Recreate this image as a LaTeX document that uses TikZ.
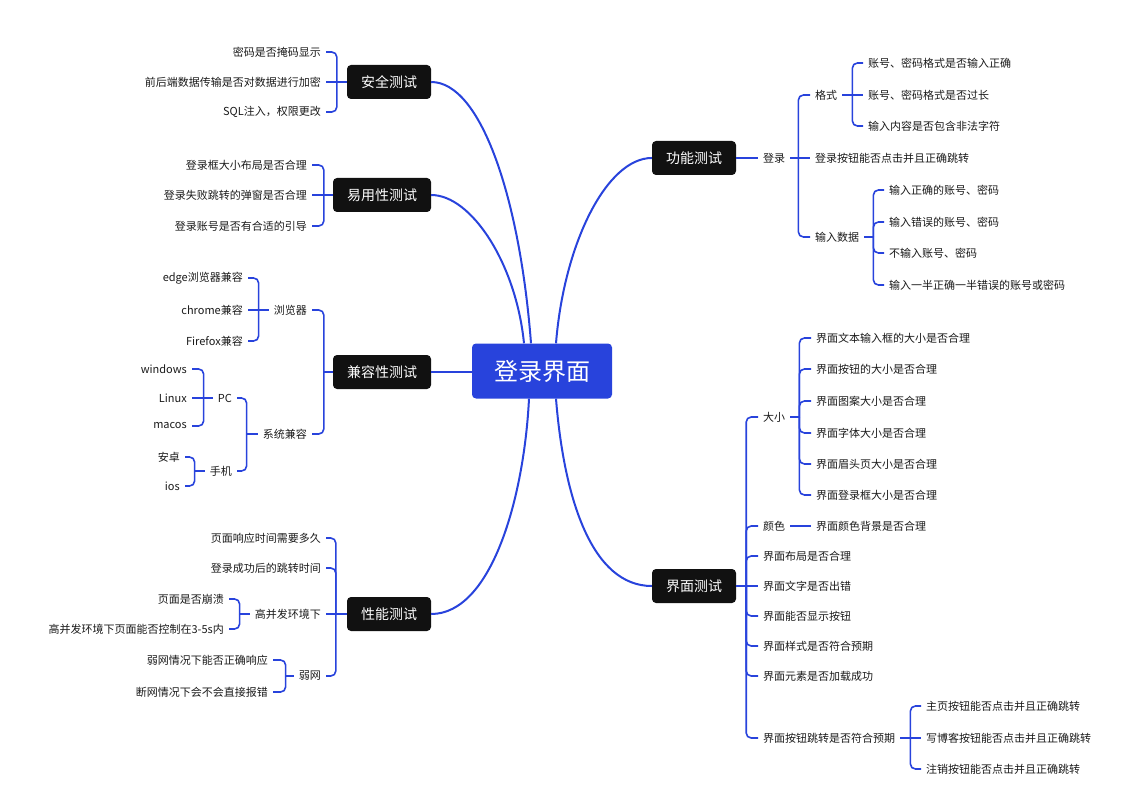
\documentclass[tikz,border=0pt]{standalone}
\usepackage{fontspec}
\usepackage{tikz}
\newfontfamily\cjk{Noto Sans CJK SC}
\definecolor{mapblue}{HTML}{2843DC}
\definecolor{boxblack}{HTML}{111111}
\definecolor{leaftext}{HTML}{1A1A1A}

\begin{document}
\begin{tikzpicture}[x=1pt, y=-1pt,
  root/.style={fill=mapblue, text=white, rounded corners=4pt, minimum width=140pt, minimum height=55pt, font=\cjk\fontsize{24}{28}\selectfont},
  topic/.style={fill=boxblack, text=white, rounded corners=4pt, minimum height=34pt, inner xsep=14pt, font=\cjk\fontsize{14}{16}\selectfont},
  leafR/.style={anchor=west, inner xsep=5pt, inner ysep=1pt, text=leaftext, font=\cjk\fontsize{11}{13}\selectfont},
  leafL/.style={leafR, anchor=east},
  trunk/.style={draw=mapblue, line width=2pt},
  twig/.style={draw=mapblue, line width=1.6pt, rounded corners=5pt}]

  \useasboundingbox (0,0) rectangle (1132,794);

  \node[root] (zx) at (542,371) {登录界面};

  % left: 安全测试
  \node[topic] (aq) at (389,82) {安全测试};
  \node[leafL] (aq1) at (326,52) {密码是否掩码显示};
  \node[leafL] (aq2) at (326,82) {前后端数据传输是否对数据进行加密};
  \node[leafL] (aq3) at (326,112) {SQL注入，权限更改};
  \coordinate (aqS) at ([xshift=-10]aq.west);
  \draw[twig] (aq.west) -- (aqS) -- (aq2.east);
  \foreach \c in {aq1,aq3} \draw[twig] (aqS) |- (\c.east);

  % left: 易用性测试
  \node[topic] (yy) at (382,195) {易用性测试};
  \node[leafL] (yy1) at (312,165) {登录框大小布局是否合理};
  \node[leafL] (yy2) at (312,195) {登录失败跳转的弹窗是否合理};
  \node[leafL] (yy3) at (312,226) {登录账号是否有合适的引导};
  \coordinate (yyS) at ([xshift=-9]yy.west);
  \draw[twig] (yy.west) -- (yyS) -- (yy2.east);
  \foreach \c in {yy1,yy3} \draw[twig] (yyS) |- (\c.east);

  % left: 兼容性测试
  \node[topic] (jr) at (382,372) {兼容性测试};
  \node[leafL] (llq) at (312,310) {浏览器};
  \node[leafL] (xt) at (312,434) {系统兼容};
  \coordinate (jrS) at ([xshift=-9]jr.west);
  \draw[twig] (jr.west) -- (jrS);
  \foreach \c in {llq,xt} \draw[twig] (jrS) |- (\c.east);

  \node[leafL] (ll1) at (248,278) {edge浏览器兼容};
  \node[leafL] (ll2) at (248,310) {chrome兼容};
  \node[leafL] (ll3) at (248,341) {Firefox兼容};
  \coordinate (llqS) at ([xshift=-10]llq.west);
  \draw[twig] (llq.west) -- (llqS) -- (ll2.east);
  \foreach \c in {ll1,ll3} \draw[twig] (llqS) |- (\c.east);

  \node[leafL] (pc) at (237,398) {PC};
  \node[leafL] (sj) at (237,471) {手机};
  \coordinate (xtS) at ([xshift=-11]xt.west);
  \draw[twig] (xt.west) -- (xtS);
  \foreach \c in {pc,sj} \draw[twig] (xtS) |- (\c.east);

  \node[leafL] (pc1) at (192,369) {windows};
  \node[leafL] (pc2) at (192,398) {Linux};
  \node[leafL] (pc3) at (192,426) {macos};
  \coordinate (pcS) at ([xshift=-9]pc.west);
  \draw[twig] (pc.west) -- (pcS) -- (pc2.east);
  \foreach \c in {pc1,pc3} \draw[twig] (pcS) |- (\c.east);

  \node[leafL] (sj1) at (185,457) {安卓};
  \node[leafL] (sj2) at (185,486) {ios};
  \coordinate (sjS) at ([xshift=-10]sj.west);
  \draw[twig] (sj.west) -- (sjS);
  \foreach \c in {sj1,sj2} \draw[twig] (sjS) |- (\c.east);

  % left: 性能测试
  \node[topic] (xn) at (389,614) {性能测试};
  \node[leafL] (xn1) at (326,538) {页面响应时间需要多久};
  \node[leafL] (xn2) at (326,568) {登录成功后的跳转时间};
  \node[leafL] (gb) at (326,614) {高并发环境下};
  \node[leafL] (rw) at (326,676) {弱网};
  \coordinate (xnS) at ([xshift=-11]xn.west);
  \draw[twig] (xn.west) -- (xnS) -- (gb.east);
  \foreach \c in {xn1,xn2,rw} \draw[twig] (xnS) |- (\c.east);

  \node[leafL] (gb1) at (229,599) {页面是否崩溃};
  \node[leafL] (gb2) at (229,629) {高并发环境下页面能否控制在3-5s内};
  \coordinate (gbS) at ([xshift=-10]gb.west);
  \draw[twig] (gb.west) -- (gbS);
  \foreach \c in {gb1,gb2} \draw[twig] (gbS) |- (\c.east);

  \node[leafL] (rw1) at (273,660) {弱网情况下能否正确响应};
  \node[leafL] (rw2) at (273,692) {断网情况下会不会直接报错};
  \coordinate (rwS) at ([xshift=-8]rw.west);
  \draw[twig] (rw.west) -- (rwS);
  \foreach \c in {rw1,rw2} \draw[twig] (rwS) |- (\c.east);

  % right: 功能测试
  \node[topic] (gn) at (694,158) {功能测试};
  \node[leafR] (dl) at (758,158) {登录};
  \draw[twig] (gn.east) -- (dl.west);
  \node[leafR] (gs) at (810,95) {格式};
  \node[leafR] (an) at (810,158) {登录按钮能否点击并且正确跳转};
  \node[leafR] (sr) at (810,237) {输入数据};
  \coordinate (dlS) at ([xshift=8]dl.east);
  \draw[twig] (dl.east) -- (dlS) -- (an.west);
  \foreach \c in {gs,sr} \draw[twig] (dlS) |- (\c.west);

  \node[leafR] (gs1) at (863,63) {账号、密码格式是否输入正确};
  \node[leafR] (gs2) at (863,95) {账号、密码格式是否过长};
  \node[leafR] (gs3) at (863,126) {输入内容是否包含非法字符};
  \coordinate (gsS) at ([xshift=10]gs.east);
  \draw[twig] (gs.east) -- (gsS) -- (gs2.west);
  \foreach \c in {gs1,gs3} \draw[twig] (gsS) |- (\c.west);

  \node[leafR] (sr1) at (884,190) {输入正确的账号、密码};
  \node[leafR] (sr2) at (884,222) {输入错误的账号、密码};
  \node[leafR] (sr3) at (884,253) {不输入账号、密码};
  \node[leafR] (sr4) at (884,285) {输入一半正确一半错误的账号或密码};
  \coordinate (srS) at ([xshift=9]sr.east);
  \draw[twig] (sr.east) -- (srS);
  \foreach \c in {sr1,sr2,sr3,sr4} \draw[twig] (srS) |- (\c.west);

  % right: 界面测试
  \node[topic] (jm) at (694,586) {界面测试};
  \node[leafR] (dx) at (758,417) {大小};
  \node[leafR] (ys) at (758,526) {颜色};
  \node[leafR] (jm1) at (758,556) {界面布局是否合理};
  \node[leafR] (jm2) at (758,586) {界面文字是否出错};
  \node[leafR] (jm3) at (758,616) {界面能否显示按钮};
  \node[leafR] (jm4) at (758,646) {界面样式是否符合预期};
  \node[leafR] (jm5) at (758,676) {界面元素是否加载成功};
  \node[leafR] (aj) at (758,738) {界面按钮跳转是否符合预期};
  \coordinate (jmS) at ([xshift=10]jm.east);
  \draw[twig] (jm.east) -- (jmS) -- (jm2.west);
  \foreach \c in {dx,ys,jm1,jm3,jm4,jm5,aj} \draw[twig] (jmS) |- (\c.west);

  \node[leafR] (dx1) at (811,338) {界面文本输入框的大小是否合理};
  \node[leafR] (dx2) at (811,369) {界面按钮的大小是否合理};
  \node[leafR] (dx3) at (811,401) {界面图案大小是否合理};
  \node[leafR] (dx4) at (811,433) {界面字体大小是否合理};
  \node[leafR] (dx5) at (811,464) {界面眉头页大小是否合理};
  \node[leafR] (dx6) at (811,495) {界面登录框大小是否合理};
  \coordinate (dxS) at ([xshift=9]dx.east);
  \draw[twig] (dx.east) -- (dxS);
  \foreach \c in {dx1,dx2,dx3,dx4,dx5,dx6} \draw[twig] (dxS) |- (\c.west);

  \node[leafR] (ys1) at (811,526) {界面颜色背景是否合理};
  \draw[twig] (ys.east) -- (ys1.west);

  \node[leafR] (aj1) at (921,706) {主页按钮能否点击并且正确跳转};
  \node[leafR] (aj2) at (921,738) {写博客按钮能否点击并且正确跳转};
  \node[leafR] (aj3) at (921,769) {注销按钮能否点击并且正确跳转};
  \coordinate (ajS) at ([xshift=10]aj.east);
  \draw[twig] (aj.east) -- (ajS) -- (aj2.west);
  \foreach \c in {aj1,aj3} \draw[twig] (ajS) |- (\c.west);

  % trunk curves
  \draw[trunk] (aq.east) .. controls +(50,0) and +(-11,-144) .. ([xshift=-11]zx.north);
  \draw[trunk] (yy.east) .. controls +(40,0) and +(-8,-80) .. ([xshift=-18]zx.north);
  \draw[trunk] (gn.west) .. controls +(-45,0) and +(8,-100) .. ([xshift=14]zx.north);
  \draw[trunk] (jr.east) -- (jr.east -| zx.west);
  \draw[trunk] ([xshift=-13]zx.south) .. controls +(-5,100) and +(60,0) .. (xn.east);
  \draw[trunk] ([xshift=14]zx.south) .. controls +(8,100) and +(-60,0) .. (jm.west);
\end{tikzpicture}
\end{document}
